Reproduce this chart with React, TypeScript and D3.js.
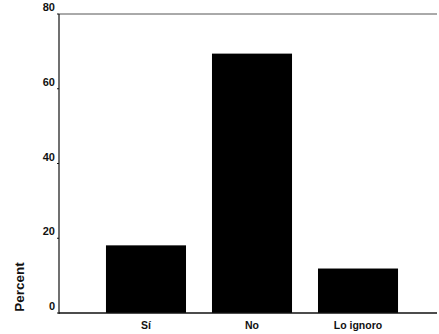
import React from "react";
import * as d3 from "d3";

const categories = ["Sí", "No", "Lo ignoro"];
const values = [18.1, 69.4, 11.9];
const yTicks = [0, 20, 40, 60, 80];
const yLabel = "Percent";

export default function App() {
  const W = 439, H = 334;
  const left = 59, right = 437, top = 14, bottom = 313;
  const x = d3.scaleBand<string>().domain(categories).range([80, 424]).paddingInner(0.245).paddingOuter(0.245);
  const y = d3.scaleLinear().domain([0, 80]).range([bottom, top]);
  const font = "'Liberation Sans', Arial, sans-serif";
  return (
    <svg width={W} height={H} style={{ position: "absolute", left: 0, top: 0 }}>
      <rect width={W} height={H} fill="#fff" />
      <line x1={left} x2={right} y1={top} y2={top} stroke="#555" strokeWidth={1} />
      <line x1={left} x2={left} y1={top} y2={bottom + 1} stroke="#111" strokeWidth={1.2} />
      {categories.map((c, i) => (
        <rect key={c} x={x(c)} y={y(values[i])} width={x.bandwidth()} height={bottom - y(values[i])} fill="#000" />
      ))}
      <line x1={left} x2={right} y1={bottom} y2={bottom} stroke="#111" strokeWidth={1.4} />
      {yTicks.map((t) => (
        <g key={t}>
          <line x1={left - 2} x2={left} y1={y(t)} y2={y(t)} stroke="#111" />
          <text x={left - 4} y={y(t) - 3} textAnchor="end" fontFamily={font} fontWeight="bold" fontSize={11} fill="#111">{t}</text>
        </g>
      ))}
      {categories.map((c) => (
        <text key={c} x={(x(c) as number) + x.bandwidth() / 2} y={329} textAnchor="middle" fontFamily={font} fontWeight="bold" fontSize={10.5} fill="#111">{c}</text>
      ))}
      <text transform={`translate(24,${287}) rotate(-90)`} textAnchor="middle" fontFamily={font} fontWeight="bold" fontSize={13.5} fill="#111">{yLabel}</text>
    </svg>
  );
}
